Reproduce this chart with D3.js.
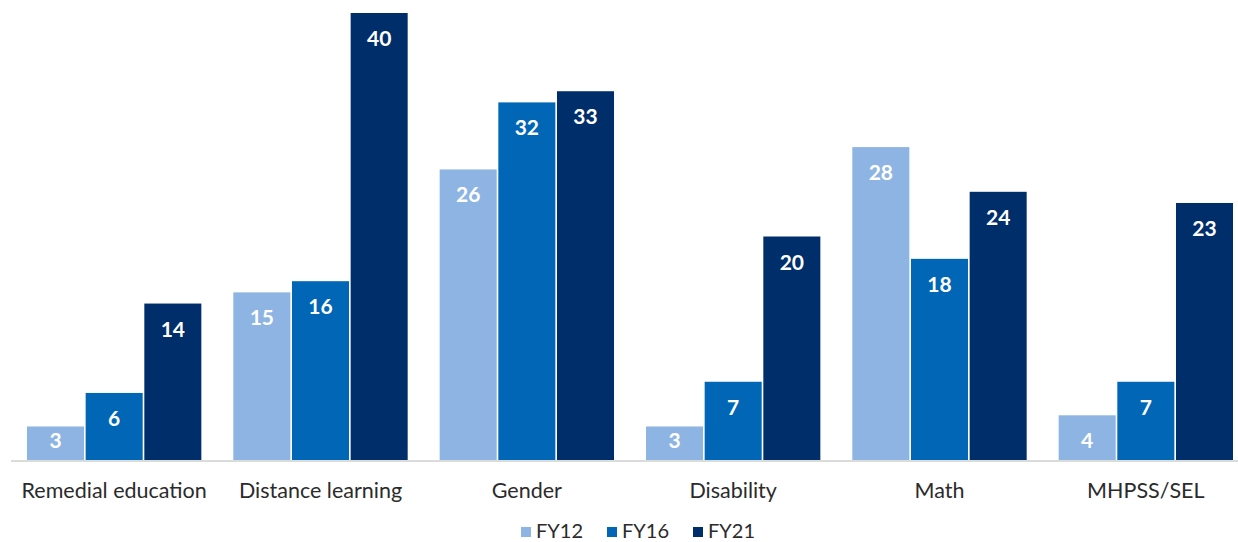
<!DOCTYPE html>
<html>
<head>
<meta charset="utf-8">
<script src="https://cdn.jsdelivr.net/npm/d3@7"></script>
<style>
  html, body { margin: 0; padding: 0; background: #fff; }
  svg { display: block; font-family: Lato, "Open Sans", sans-serif; }
</style>
</head>
<body>
<svg id="chart" width="1238" height="542"></svg>
<script>
const categories = ["Remedial education", "Distance learning", "Gender", "Disability", "Math", "MHPSS/SEL"];
const seriesNames = ["FY12", "FY16", "FY21"];
const fy12 = [3, 15, 26, 3, 28, 4];
const fy16 = [6, 16, 32, 7, 18, 7];
const fy21 = [14, 40, 33, 20, 24, 23];
const colors = ["#8db4e2", "#0066b5", "#002e6b"];

const values = [fy12, fy16, fy21];
const svg = d3.select("#chart");

const baseY = 460;
const x0 = d3.scaleBand()
    .domain(categories)
    .range([11, 1249])
    .paddingInner(0.155)
    .paddingOuter(0.0775);

const x1 = d3.scaleBand()
    .domain(seriesNames)
    .range([0, x0.bandwidth()])
    .paddingInner(0.028);

const y = d3.scaleLinear().domain([0, 40]).range([baseY, 13]);

// baseline
svg.append("line")
    .attr("x1", 11).attr("x2", 1238)
    .attr("y1", baseY + 1).attr("y2", baseY + 1)
    .attr("stroke", "#d9dcd9").attr("stroke-width", 2);

const groups = svg.append("g")
  .selectAll("g")
  .data(categories)
  .join("g")
    .attr("transform", d => `translate(${x0(d)},0)`);

const bars = groups.selectAll("g")
  .data((c, i) => seriesNames.map((s, j) => ({ s, j, v: values[j][i] })))
  .join("g");

bars.append("rect")
    .attr("x", d => x1(d.s))
    .attr("y", d => y(d.v))
    .attr("width", x1.bandwidth())
    .attr("height", d => baseY - y(d.v))
    .attr("fill", d => colors[d.j]);

bars.append("text")
    .attr("x", d => x1(d.s) + x1.bandwidth() / 2)
    .attr("y", d => Math.min(y(d.v) + 33, baseY - 12))
    .attr("text-anchor", "middle")
    .attr("fill", "#fff")
    .attr("font-weight", "bold")
    .attr("font-size", 21)
    .text(d => d.v);

// category labels
svg.append("g")
  .selectAll("text")
  .data(categories)
  .join("text")
    .attr("x", d => x0(d) + x0.bandwidth() / 2)
    .attr("y", 498)
    .attr("text-anchor", "middle")
    .attr("fill", "#2b2b2b")
    .attr("font-size", 21.5)
    .text(d => d);

// legend
const legendX = [521, 607, 693];
const legend = svg.append("g")
  .selectAll("g")
  .data(seriesNames)
  .join("g")
    .attr("transform", (d, i) => `translate(${legendX[i]},0)`);

legend.append("rect")
    .attr("x", 0).attr("y", 527)
    .attr("width", 10).attr("height", 10)
    .attr("fill", (d, i) => colors[i]);

legend.append("text")
    .attr("x", 15).attr("y", 538)
    .attr("fill", "#2b2b2b")
    .attr("font-size", 20)
    .text(d => d);
</script>
</body>
</html>
